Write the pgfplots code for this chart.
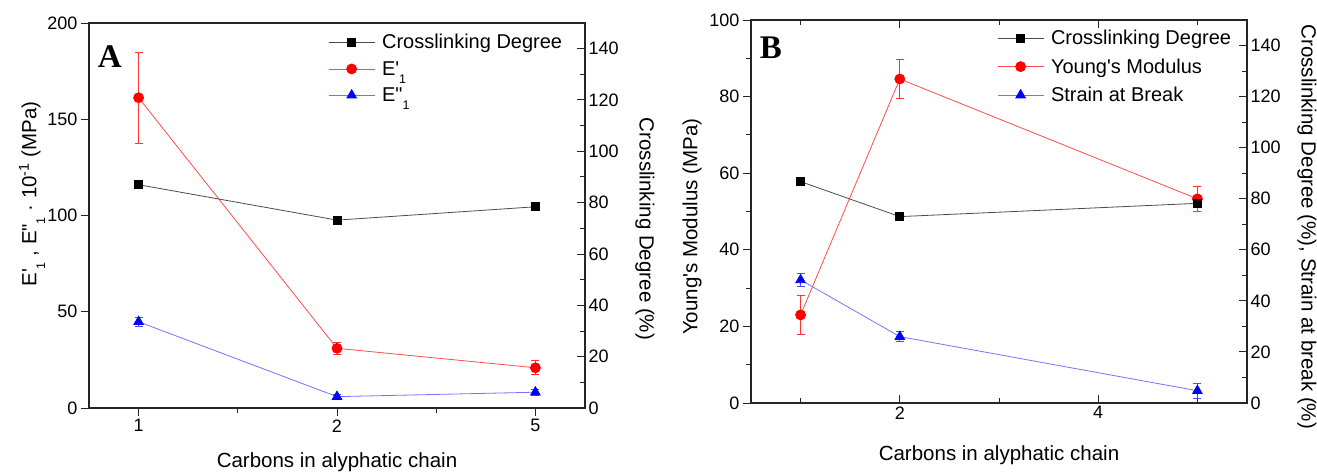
\documentclass[border=0pt]{standalone}
\usepackage{pgfplots}
\pgfplotsset{compat=1.18}
\usepackage{fontspec}
\setmainfont{Liberation Sans}[Ligatures=TeXOff]
\newfontfamily\serifbf{Liberation Serif}
\newcommand{\lowsub}[1]{\raisebox{-0.42em}{\fontsize{12.5}{12.5}\selectfont #1}}

\tikzset{lab/.style={font=\fontsize{20.5}{23}\selectfont}}
\pgfplotsset{
  base/.style={
    scale only axis, anchor=south west,
    /pgf/number format/assume math mode=true,
    tick label style={font=\fontsize{18}{20}\selectfont},
    major tick length=8pt, minor tick length=5pt,
    axis line style={line width=1.2pt, black!85},
    every tick/.style={line width=1pt, black!85},
    legend style={draw=none, fill=none, inner sep=0pt, font=\fontsize{20}{22}\selectfont,
      cells={anchor=west}, nodes={inner ysep=1.5pt}, row sep=9.5pt,
      /tikz/every odd column/.append style={column sep=5pt}},
    legend image code/.code={
      \draw[mark repeat=2, mark phase=2, ##1] plot coordinates {(0pt,0pt) (23pt,0pt) (46pt,0pt)};},
  },
}

\begin{document}
\begin{tikzpicture}
\useasboundingbox (0,0) rectangle (1317pt,472pt);

% ---------------- Panel A ----------------
\begin{axis}[base, at={(89pt,64pt)}, width=496pt, height=385pt,
  xmin=-0.25, xmax=2.25, ymin=0, ymax=200,
  xtick={0,1,2}, xticklabels={1,2,5}, minor xtick={0.5,1.5},
  ytick={0,50,100,150,200},
  xtick pos=bottom, ytick pos=left, tick align=outside,
  xlabel={Carbons in alyphatic chain},
  ylabel={E'\lowsub{1} , E"\lowsub{1} · 10\textsuperscript{-1} (MPa)},
  every axis x label/.style={lab, at={(axis description cs:0.5,0)}, yshift=-54pt, anchor=center},
  every axis y label/.style={lab, at={(axis description cs:0,0.556)}, xshift=-57pt, rotate=90, anchor=center},
]
\addplot[red!70, line width=0.8pt, mark=*, mark size=5pt, mark options={red, fill=red},
  error bars/.cd, y dir=both, y explicit,
  error bar style={red!80, line width=0.8pt},
  error mark options={red!80, rotate=90, mark size=4pt, line width=0.8pt}]
  coordinates {(0,161.2) +- (0,23.7) (1,31.0) +- (0,3.3) (2,20.9) +- (0,3.7)};
\addplot[blue!55, line width=0.8pt, mark=triangle*, mark size=5.5pt, mark options={blue, fill=blue},
  error bars/.cd, y dir=both, y explicit,
  error bar style={blue!70, line width=0.8pt},
  error mark options={blue!70, rotate=90, mark size=4pt, line width=0.8pt}]
  coordinates {(0,44.8) +- (0,2.5) (1,5.9) +- (0,1.2) (2,8.2) +- (0,1.5)};
\node[font=\serifbf\bfseries\fontsize{33}{33}\selectfont] at (rel axis cs:0.042,0.914) {A};
\end{axis}

\begin{axis}[base, at={(89pt,64pt)}, width=496pt, height=385pt,
  xmin=-0.25, xmax=2.25, ymin=0, ymax=150,
  axis x line=none, axis y line*=right, tick align=inside,
  ytick={0,20,...,140}, minor ytick={10,30,...,150},
  ylabel={Crosslinking Degree (\%)},
  every axis y label/.style={lab, at={(axis description cs:1,0.465)}, xshift=60pt, rotate=-90, anchor=center},
  legend style={at={(axis description cs:0.482,0.975)}, anchor=north west, row sep=8pt},
]
\addplot[black!70, line width=0.8pt, mark=square*, mark size=4pt, mark options={black, fill=black}]
  coordinates {(0,87.0) (1,73.2) (2,78.4)};
\addlegendentry{Crosslinking Degree}
\addlegendimage{red!70, line width=0.8pt, mark=*, mark size=5pt, mark options={red, fill=red}}
\addlegendentry{E'\lowsub{1}}
\addlegendimage{blue!55, line width=0.8pt, mark=triangle*, mark size=5.5pt, mark options={blue, fill=blue}}
\addlegendentry{E"\lowsub{1}}
\end{axis}

% ---------------- Panel B ----------------
\begin{axis}[base, at={(751pt,69pt)}, width=496pt, height=383pt,
  xmin=0.5, xmax=5.5, ymin=0, ymax=100,
  xtick={2,4}, minor xtick={1,3,5},
  ytick={0,20,...,100}, minor ytick={10,30,...,90},
  xtick pos=both, xticklabel pos=bottom, ytick pos=left,
  xtick align=inside, ytick align=outside,
  xlabel={Carbons in alyphatic chain},
  ylabel={Young's Modulus (MPa)},
  every axis x label/.style={lab, at={(axis description cs:0.5,0)}, yshift=-52pt, anchor=center},
  every axis y label/.style={lab, at={(axis description cs:0,0.46)}, xshift=-59pt, rotate=90, anchor=center},
]
\addplot[red!70, line width=0.8pt, mark=*, mark size=5pt, mark options={red, fill=red},
  error bars/.cd, y dir=both, y explicit,
  error bar style={red!80, line width=0.8pt},
  error mark options={red!80, rotate=90, mark size=4pt, line width=0.8pt}]
  coordinates {(1,23.0) +- (0,5.1) (2,84.6) +- (0,5.0) (5,53.3) +- (0,3.3)};
\node[font=\serifbf\bfseries\fontsize{33}{33}\selectfont] at (rel axis cs:0.040,0.927) {B};
\end{axis}

\begin{axis}[base, at={(751pt,69pt)}, width=496pt, height=383pt,
  xmin=0.5, xmax=5.5, ymin=0, ymax=150,
  axis x line=none, axis y line*=right, tick align=inside,
  ytick={0,20,...,140}, minor ytick={10,30,...,150},
  ylabel={Crosslinking Degree (\%), Strain at break (\%)},
  every axis y label/.style={lab, at={(axis description cs:1,0.46)}, xshift=60pt, rotate=-90, anchor=center},
  legend style={at={(axis description cs:0.496,0.978)}, anchor=north west},
]
\addplot[black!70, line width=0.8pt, mark=square*, mark size=4pt, mark options={black, fill=black}]
  coordinates {(1,86.7) (2,73.0) (5,78.2)};
\addlegendentry{Crosslinking Degree}
\addlegendimage{red!70, line width=0.8pt, mark=*, mark size=5pt, mark options={red, fill=red}}
\addlegendentry{Young's Modulus}
\addplot[blue!55, line width=0.8pt, mark=triangle*, mark size=5.5pt, mark options={blue, fill=blue},
  error bars/.cd, y dir=both, y explicit,
  error bar style={blue!70, line width=0.8pt},
  error mark options={blue!70, rotate=90, mark size=4pt, line width=0.8pt}]
  coordinates {(1,48.2) +- (0,2.5) (2,26.0) +- (0,2.0) (5,4.8) +- (0,3.0)};
\addlegendentry{Strain at Break}
\end{axis}
\end{tikzpicture}
\end{document}
